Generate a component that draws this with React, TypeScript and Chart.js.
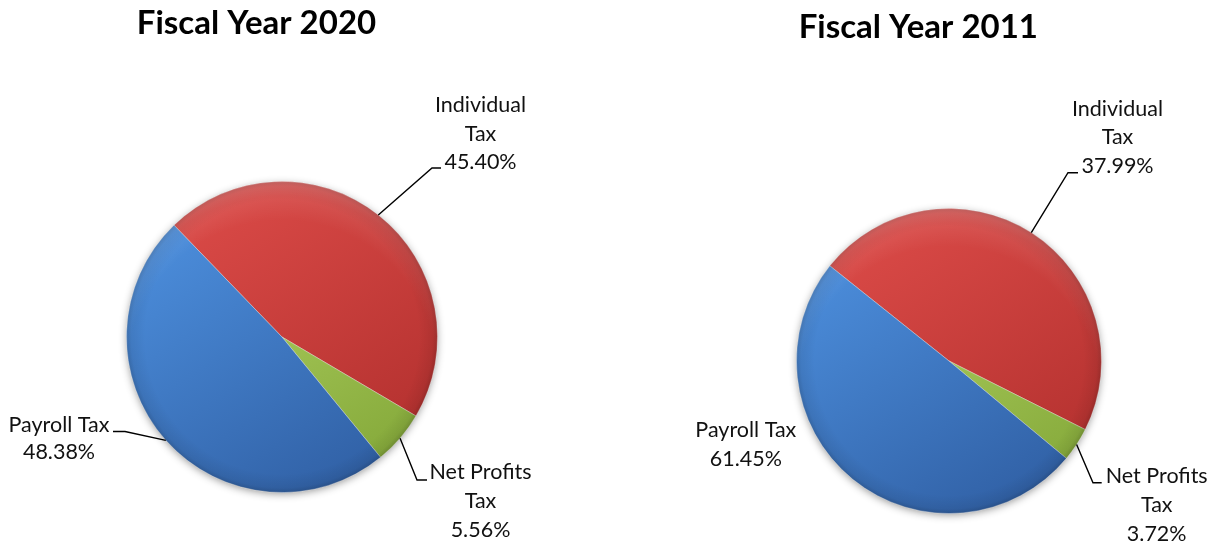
import React, { useEffect, useRef } from "react";
import { Chart, registerables } from "chart.js";

Chart.register(...registerables);

// ---- data ----
const categories = ["Individual Tax", "Net Profits Tax", "Payroll Tax"];
const labelLines = [["Individual", "Tax"], ["Net Profits", "Tax"], ["Payroll Tax"]];
const fy2020Values = [45.4, 5.56, 48.38];
// slice sizes as drawn in the FY2011 pie
const fy2011Values = [46.7, 3.6, 49.7];
const fy2020Percents = ["45.40%", "5.56%", "48.38%"];
const fy2011Percents = ["37.99%", "3.72%", "61.45%"];
const chartTitles = ["Fiscal Year 2020", "Fiscal Year 2011"];

// ---- styles ----
const sliceColors = [
  ["#DA4A47", "#B4312F"],
  ["#B6D768", "#86AA3B"],
  ["#4C8EDC", "#3161A6"],
];
const LABEL_FONT = "21.5px Lato, 'Open Sans', sans-serif";
const TITLE_FONT = "bold 33px Lato, 'Open Sans', sans-serif";

type Callout = { elbow?: number[]; end?: number[]; x: number; baselines: number[] };
type PieCfg = {
  values: number[];
  percents: string[];
  title: string;
  rotation: number;
  padding: { left: number; right: number; top: number; bottom: number };
  titlePos: number[];
  callouts: Callout[];
};

const leftCfg: PieCfg = {
  values: fy2020Values,
  percents: fy2020Percents,
  title: chartTitles[0],
  rotation: -44,
  padding: { left: 126, right: 172, top: 181, bottom: 51 },
  titlePos: [256.5, 33.5],
  callouts: [
    { elbow: [432, 168], end: [441, 168], x: 480.5, baselines: [111.7, 140.7, 169.3] },
    { elbow: [417, 480], end: [427, 480], x: 480.5, baselines: [479.3, 508.3, 537.3] },
    { elbow: [125, 431.5], end: [113, 431.5], x: 59, baselines: [431.7, 458.5] },
  ],
};

const rightCfg: PieCfg = {
  values: fy2011Values,
  percents: fy2011Percents,
  title: chartTitles[1],
  rotation: -51.4,
  padding: { left: 186, right: 118, top: 208, bottom: 30 },
  titlePos: [308.3, 37.5],
  callouts: [
    { elbow: [458, 172.7], end: [468, 172.7], x: 507.5, baselines: [115.7, 144.3, 173.3] },
    { elbow: [483, 482.7], end: [491.7, 482.7], x: 546.7, baselines: [483.3, 511.7, 540.7] },
    { x: 135.8, baselines: [437.3, 466] },
  ],
};

const decorPlugin = {
  id: "decor",
  beforeDatasetsDraw(chart: any) {
    const arc = chart.getDatasetMeta(0).data[0] as any;
    if (!arc) return;
    const { x, y, outerRadius } = arc;
    const ctx = chart.ctx as CanvasRenderingContext2D;
    ctx.save();
    ctx.shadowColor = "rgba(0,0,0,0.45)";
    ctx.shadowBlur = 9;
    ctx.shadowOffsetY = 2;
    ctx.beginPath();
    ctx.arc(x, y, outerRadius - 1, 0, Math.PI * 2);
    ctx.fillStyle = "#777";
    ctx.fill();
    ctx.restore();
  },
  afterDatasetsDraw(chart: any, _args: any, opts: any) {
    const cfg: PieCfg = opts.cfg;
    const meta = chart.getDatasetMeta(0);
    const first = meta.data[0] as any;
    if (!first) return;
    const ctx = chart.ctx as CanvasRenderingContext2D;
    const { x: cx, y: cy, outerRadius: r } = first;

    // rim shading (bevel look)
    ctx.save();
    ctx.beginPath();
    ctx.arc(cx, cy, r, 0, Math.PI * 2);
    ctx.clip();
    const rg = ctx.createRadialGradient(cx, cy, 0, cx, cy, r);
    rg.addColorStop(0, "rgba(0,0,0,0)");
    rg.addColorStop(0.88, "rgba(0,0,0,0)");
    rg.addColorStop(0.97, "rgba(0,0,0,0.07)");
    rg.addColorStop(1, "rgba(0,0,0,0.18)");
    ctx.fillStyle = rg;
    ctx.fillRect(cx - r, cy - r, 2 * r, 2 * r);
    // soft top highlight (offset radial band)
    const oy = cy + r * 0.25;
    const hg = ctx.createRadialGradient(cx, oy, r * 1.0, cx, oy, r * 1.26);
    hg.addColorStop(0, "rgba(255,255,255,0)");
    hg.addColorStop(0.6, "rgba(255,255,255,0.08)");
    hg.addColorStop(1, "rgba(255,255,255,0.2)");
    ctx.fillStyle = hg;
    ctx.fillRect(cx - r, cy - r, 2 * r, 2 * r);
    ctx.restore();

    // title
    ctx.save();
    ctx.fillStyle = "#000";
    ctx.font = TITLE_FONT;
    ctx.textAlign = "center";
    ctx.textBaseline = "alphabetic";
    ctx.fillText(cfg.title, cfg.titlePos[0], cfg.titlePos[1]);
    ctx.restore();

    // callouts
    ctx.save();
    ctx.strokeStyle = "#000";
    ctx.lineWidth = 1.4;
    ctx.fillStyle = "#111";
    ctx.font = LABEL_FONT;
    ctx.textAlign = "center";
    ctx.textBaseline = "alphabetic";
    meta.data.forEach((el: any, i: number) => {
      const c = cfg.callouts[i];
      if (!c) return;
      if (c.elbow && c.end) {
        const mid = (el.startAngle + el.endAngle) / 2;
        const sx = el.x + Math.cos(mid) * el.outerRadius;
        const sy = el.y + Math.sin(mid) * el.outerRadius;
        ctx.beginPath();
        ctx.moveTo(sx, sy);
        ctx.lineTo(c.elbow[0], c.elbow[1]);
        ctx.lineTo(c.end[0], c.end[1]);
        ctx.stroke();
      }
      const lines = [...labelLines[i], cfg.percents[i]];
      lines.forEach((t, k) => {
        ctx.fillText(t, c.x, c.baselines[k]);
      });
    });
    ctx.restore();
  },
};

function PieCanvas({ cfg, left }: { cfg: PieCfg; left: number }) {
  const ref = useRef<HTMLCanvasElement>(null);
  useEffect(() => {
    const chart = new Chart(ref.current as HTMLCanvasElement, {
      type: "pie",
      data: {
        labels: categories,
        datasets: [
          {
            data: cfg.values,
            backgroundColor: (c: any) => {
              const ch = c.chart;
              const area = ch.chartArea;
              const [light, dark] = sliceColors[c.dataIndex] || sliceColors[0];
              if (!area) return light;
              const cx = (area.left + area.right) / 2;
              const cy = (area.top + area.bottom) / 2;
              const r = Math.min(area.width, area.height) / 2;
              const g = ch.ctx.createLinearGradient(cx - r * 0.55, cy - r * 0.85, cx + r * 0.55, cy + r * 0.85);
              g.addColorStop(0, light);
              g.addColorStop(1, dark);
              return g;
            },
            borderColor: "rgba(255,255,255,0.35)",
            borderWidth: 1,
          },
        ],
      },
      options: {
        responsive: false,
        animation: false,
        events: [],
        rotation: cfg.rotation,
        layout: { padding: cfg.padding },
        plugins: {
          legend: { display: false },
          tooltip: { enabled: false },
          title: { display: false },
          decor: { cfg },
        } as any,
      },
      plugins: [decorPlugin as any],
    });
    return () => chart.destroy();
  }, [cfg]);
  return (
    <canvas
      ref={ref}
      width={610}
      height={544}
      style={{ position: "absolute", left, top: 0, width: 610, height: 544, display: "block" }}
    />
  );
}

export default function App() {
  return (
    <div style={{ position: "absolute", left: 0, top: 0, width: 1220, height: 544, background: "#fff", overflow: "hidden" }}>
      <PieCanvas cfg={leftCfg} left={0} />
      <PieCanvas cfg={rightCfg} left={610} />
    </div>
  );
}
